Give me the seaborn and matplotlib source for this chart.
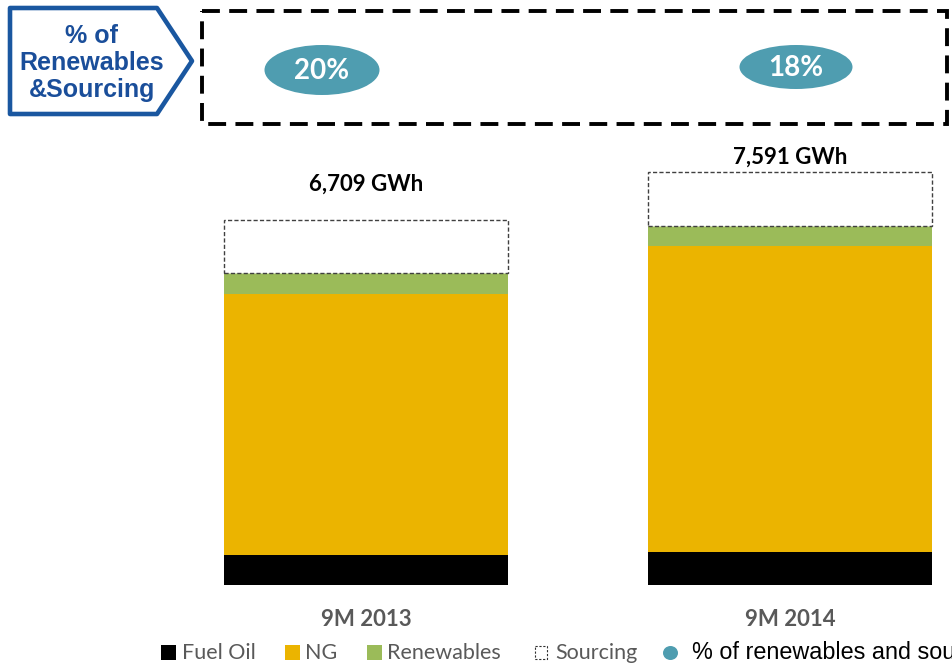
import numpy as np
import pandas as pd
import matplotlib.pyplot as plt
import seaborn as sns
from matplotlib.patches import Ellipse, Polygon, Rectangle

# Donnees (GWh)
categories = ["9M 2013", "9M 2014"]
fuel_oil = [551, 607]
ng = [4797, 5624]
renewables = [386, 368]
sourcing = [975, 992]

series_names = ["Fuel Oil", "NG", "Renewables", "Sourcing"]
couleurs = ["#000000", "#EBB400", "#9BBB59", "#FFFFFF"]

sns.set_style("white")
plt.rcParams["font.family"] = ["Lato", "DejaVu Sans"]

df = pd.DataFrame({"cat": categories, "Fuel Oil": fuel_oil, "NG": ng,
                   "Renewables": renewables, "Sourcing": sourcing})
cum = df[series_names].cumsum(axis=1)
totals = cum["Sourcing"].values
pct = (df["Renewables"] + df["Sourcing"]) / totals * 100

W, H = 953, 670
fig = plt.figure(figsize=(W / 100, H / 100), dpi=100)

# axe principal : 0 -> px 366, 1 -> px 790 ; y=0 a px 585
px_unit = 424
gwh_px = 18.38
ax = fig.add_axes([0, 85 / H, 1, 485 / H])
bar_w = 284 / px_unit

# barres cumulees (fuel oil, NG, renouvelables)
for name, col in zip(["Renewables", "NG", "Fuel Oil"], couleurs[2::-1]):
    sns.barplot(x=df["cat"], y=cum[name], color=col, width=bar_w,
                linewidth=0, saturation=1, ax=ax)
# sourcing : cadre pointille pose sur les renouvelables
sns.barplot(x=df["cat"], y=df["Sourcing"], bottom=cum["Renewables"].values,
            color="white", saturation=1, width=bar_w, edgecolor="#404040",
            linewidth=1, linestyle=(0, (3, 1.6)), ax=ax)

ax.set_xlim(-366 / px_unit, (W - 366) / px_unit)
ax.set_ylim(0, 485 * gwh_px)
ax.set_xlabel("")
ax.set_ylabel("")
ax.set_yticks([])
sns.despine(ax=ax, left=True, bottom=True)
ax.set_xticks(range(len(categories)), categories, fontsize=16,
              fontweight="bold", color="#595959")
ax.tick_params(axis="x", length=0, pad=17)

# totaux au-dessus des barres (ecart en pixels)
ecart_px = [36, 15]
for i, tot in enumerate(totals):
    ax.text(i, tot + ecart_px[i] * gwh_px, f"{tot:,.0f} GWh",
            ha="center", va="center", fontsize=16, fontweight="bold", color="black")

# calque en pixels pour l'entete et la legende
ov = fig.add_axes([0, 0, 1, 1], zorder=5)
ov.set_xlim(0, W)
ov.set_ylim(H, 0)
ov.axis("off")
ov.patch.set_alpha(0)

# etiquette bleue
tag = Polygon([(10, 8), (157, 8), (192, 61), (157, 114), (10, 114)], closed=True,
              fill=False, edgecolor="#1A57A0", lw=3.3, joinstyle="round")
ov.add_patch(tag)
ov.text(92, 63, "% of\nRenewables\n&Sourcing", ha="center", va="center",
        fontsize=18, fontweight="bold", color="#1A4E9A", linespacing=1.18,
        family=["Liberation Sans", "DejaVu Sans"])

# cadre pointille
ov.add_patch(Rectangle((202, 11), 745, 113, fill=False, edgecolor="black",
                       lw=2.8, linestyle=(0, (4.6, 2.4))))

# ellipses des pourcentages
ell_x = [322, 796]
ell_y = [70, 67]
ell_w = [115, 113]
ell_h = [50, 44]
for x, y, w, h, p in zip(ell_x, ell_y, ell_w, ell_h, pct):
    ov.add_patch(Ellipse((x, y), w, h, facecolor="#4F9DB0", edgecolor="none"))
    ov.text(x, y + 1, f"{p:.0f}%", ha="center", va="center", fontsize=20,
            fontweight="bold", color="white")

# legende
leg_x = [161, 285, 367, 535]
txt_x = [182, 305, 387, 555]
for x, tx, name, col in zip(leg_x, txt_x, series_names, couleurs):
    if name == "Sourcing":
        ov.add_patch(Rectangle((x, 646), 12, 13, facecolor="white", edgecolor="#303030",
                               lw=0.8, linestyle=(0, (2, 1.5))))
    else:
        ov.add_patch(Rectangle((x, 645), 15, 15, facecolor=col, edgecolor="none"))
    ov.text(tx, 653, name, ha="left", va="center", fontsize=15.5, color="#595959")
ov.add_patch(Ellipse((670.5, 653), 15, 14, facecolor="#4F9DB0", edgecolor="none"))
ov.text(692, 652, "% of renewables and sourcing", ha="left", va="center",
        fontsize=16.8, color="black", family=["Liberation Sans", "DejaVu Sans"])

fig.savefig("out.png", dpi=100)
